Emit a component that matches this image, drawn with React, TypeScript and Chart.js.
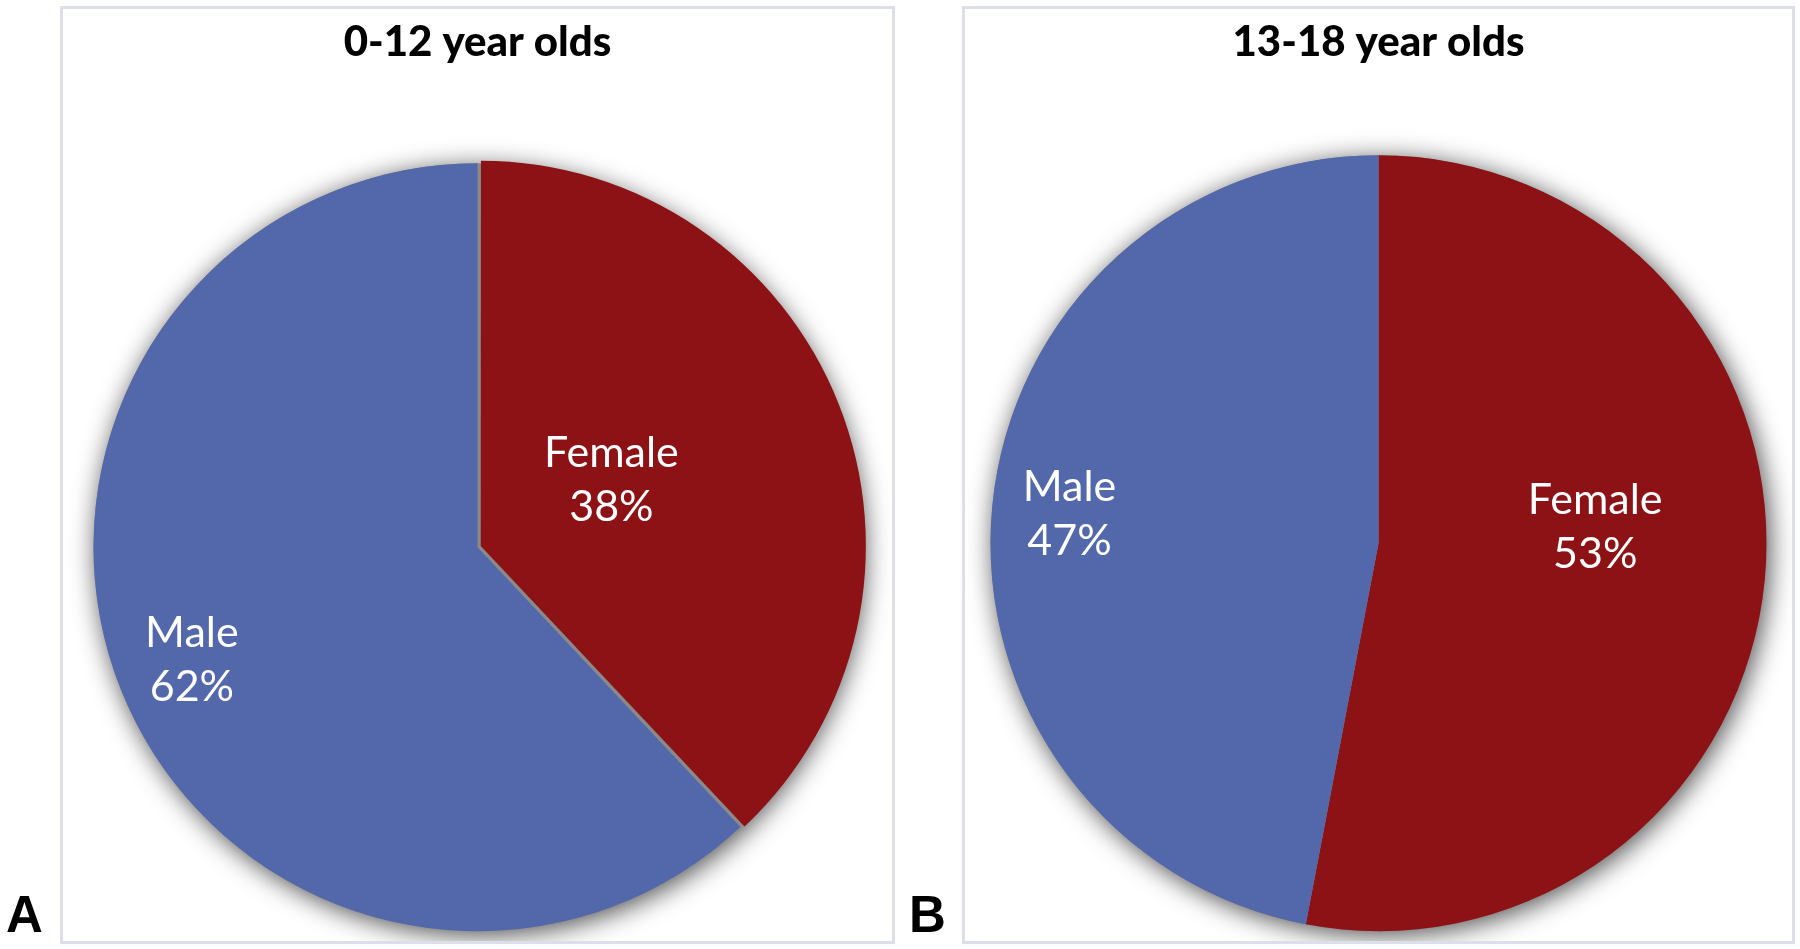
import React, { useEffect, useRef } from "react";
import { Chart, registerables } from "chart.js";

Chart.register(...registerables);

// ---- data ----
const categories = ["Female", "Male"];
const titleA = "0-12 year olds";
const valuesA = [38, 62];
const titleB = "13-18 year olds";
const valuesB = [53, 47];
const panelLetters = ["A", "B"];

// ---- styles ----
const sliceColors = ["#8C1215", "#5368AA"];
const FONT = "Lato, 'Open Sans', sans-serif";

const pieShadow = {
  id: "pieShadow",
  beforeDatasetsDraw(chart: any) {
    const arc = chart.getDatasetMeta(0).data[0];
    if (!arc) return;
    const { x, y, outerRadius } = arc.getProps(["x", "y", "outerRadius"], true);
    const ctx = chart.ctx;
    ctx.save();
    ctx.shadowColor = "rgba(0,0,0,0.7)";
    ctx.shadowBlur = 26;
    ctx.shadowOffsetX = 3;
    ctx.shadowOffsetY = 4;
    ctx.fillStyle = "#8a8a8a";
    ctx.beginPath();
    ctx.arc(x, y, outerRadius, 0, Math.PI * 2);
    ctx.fill();
    ctx.restore();
  },
};

const sliceLabels = {
  id: "sliceLabels",
  afterDatasetsDraw(chart: any, _args: any, opts: any) {
    const meta = chart.getDatasetMeta(0);
    const ds = chart.data.datasets[0];
    const ctx = chart.ctx;
    ctx.save();
    ctx.fillStyle = "#ffffff";
    ctx.font = `43px ${FONT}`;
    ctx.textAlign = "center";
    ctx.textBaseline = "middle";
    meta.data.forEach((arc: any, i: number) => {
      const p = arc.getProps(["x", "y", "startAngle", "endAngle", "outerRadius"], true);
      const place = opts.placement[i];
      const ang = (p.startAngle + p.endAngle) / 2 + (place.shift * Math.PI) / 180;
      const r = p.outerRadius * place.frac;
      const cx = p.x + Math.cos(ang) * r;
      const cy = p.y + Math.sin(ang) * r;
      ctx.fillText(String(chart.data.labels[i]), cx, cy - 27);
      ctx.fillText(`${ds.data[i]}%`, cx, cy + 27);
    });
    ctx.restore();
  },
};

type PanelProps = {
  title: string;
  values: number[];
  offsets: number[];
  radius: number;
  width: number;
  height: number;
  titleBottom: number;
  padBottom: number;
  placement: { frac: number; shift: number }[];
};

function PiePanel(props: PanelProps) {
  const ref = useRef<HTMLCanvasElement>(null);
  useEffect(() => {
    if (!ref.current) return;
    const chart = new Chart(ref.current, {
      type: "pie",
      data: {
        labels: categories,
        datasets: [
          {
            data: props.values,
            backgroundColor: sliceColors,
            borderWidth: 0,
            offset: props.offsets,
            radius: props.radius,
          } as any,
        ],
      },
      options: {
        animation: false,
        responsive: false,
        events: [],
        layout: { padding: { top: 0, left: 0, right: 0, bottom: props.padBottom } },
        plugins: {
          legend: { display: false },
          tooltip: { enabled: false },
          title: {
            display: true,
            text: props.title,
            color: "#000000",
            font: { family: FONT, weight: "900", size: 42, lineHeight: 1.2 },
            padding: { top: 8, bottom: props.titleBottom },
          },
          sliceLabels: { placement: props.placement },
        } as any,
      },
      plugins: [pieShadow, sliceLabels],
    });
    return () => chart.destroy();
  }, []);
  return (
    <canvas
      ref={ref}
      width={props.width}
      height={props.height}
      style={{ display: "block", width: props.width, height: props.height }}
    />
  );
}

const panelBox: React.CSSProperties = {
  position: "absolute",
  top: 6,
  height: 938,
  border: "3px solid #dcdfe9",
  boxSizing: "border-box",
  background: "#ffffff",
};

const letterStyle: React.CSSProperties = {
  position: "absolute",
  top: 889,
  fontFamily: "'Liberation Sans', Arial, sans-serif",
  fontWeight: "bold",
  fontSize: 51,
  lineHeight: "51px",
  color: "#000000",
};

export default function App() {
  return (
    <div
      style={{
        position: "absolute",
        left: 0,
        top: 0,
        width: 1800,
        height: 949,
        background: "#ffffff",
        overflow: "hidden",
      }}
    >
      <div style={{ ...panelBox, left: 60, width: 835 }}>
        <PiePanel
          title={titleA}
          values={valuesA}
          offsets={[14, 0]}
          radius={384}
          width={829}
          height={932}
          titleBottom={92}
          padBottom={6}
          placement={[
            { frac: 0.39, shift: -5 },
            { frac: 0.8, shift: 0 },
          ]}
        />
      </div>
      <div style={{ ...panelBox, left: 962, width: 833 }}>
        <PiePanel
          title={titleB}
          values={valuesB}
          offsets={[0, 0]}
          radius={388}
          width={827}
          height={932}
          titleBottom={82}
          padBottom={4}
          placement={[
            { frac: 0.56, shift: -9.6 },
            { frac: 0.8, shift: 0 },
          ]}
        />
      </div>
      <div style={{ ...letterStyle, left: 6 }}>{panelLetters[0]}</div>
      <div style={{ ...letterStyle, left: 909 }}>{panelLetters[1]}</div>
    </div>
  );
}
